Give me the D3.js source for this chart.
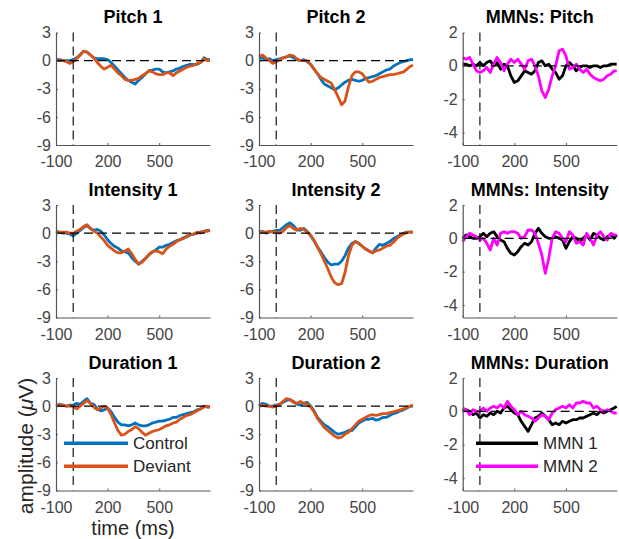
<!DOCTYPE html>
<html>
<head>
<meta charset="utf-8">
<script src="https://cdn.jsdelivr.net/npm/d3@7"></script>
<style>
  body { margin: 0; background: #fff; }
  svg { display: block; }
  text { font-family: "Liberation Sans", Arial, sans-serif; }
</style>
</head>
<body>
<svg id="chart"></svg>
<script>
// time points (ms) shared by every trace
var time = [-100,-80,-60,-40,-20,0,20,40,60,80,
  100,120,140,160,180,200,220,240,260,280,
  300,320,340,360,380,400,420,440,460,480,
  500,520,540,560,580,600,620,640,660,680,
  700,720,740,760,780,795];

var xTicks = [-100, 200, 500];
var erpTicks = [-9, -6, -3, 0, 3];
var mmnTicks = [-4, -2, 0, 2];

// ERPs (uV)
var pitch1Control = [0.1,0.1,0.0,0.0,0.0,0.1,0.3,0.6,1.0,0.9,
  0.6,0.3,0.2,0.2,0.2,0.1,-0.2,-0.6,-1.0,-1.4,
  -1.8,-2.1,-2.3,-2.5,-2.1,-1.8,-1.4,-1.1,-1.0,-0.9,
  -0.9,-1.2,-1.3,-1.2,-1.1,-0.9,-0.8,-0.6,-0.5,-0.4,
  -0.4,-0.4,-0.2,0.3,0.1,0.1];
var pitch1Deviant = [0.0,0.0,0.0,-0.1,-0.3,-0.1,0.2,0.6,1.0,0.9,
  0.6,0.3,-0.2,-0.6,-0.9,-0.7,-0.5,-0.9,-1.3,-1.6,
  -2.0,-2.1,-2.1,-2.0,-1.9,-1.6,-1.4,-1.1,-1.2,-1.4,
  -1.5,-1.5,-1.3,-1.3,-1.6,-1.3,-1.1,-0.9,-0.7,-0.6,
  -0.5,-0.3,-0.2,0.2,0.0,0.0];
var pitch2Control = [0.2,0.3,0.1,0.2,0.0,0.1,0.2,0.3,0.4,0.5,
  0.3,0.1,0.0,0.1,-0.1,-0.4,-0.9,-1.4,-2.0,-2.5,
  -2.7,-2.9,-3.1,-2.9,-2.6,-2.3,-2.1,-2.0,-2.1,-2.2,
  -2.1,-1.9,-1.8,-1.7,-1.6,-1.4,-1.2,-1.0,-0.9,-0.6,
  -0.4,-0.2,-0.1,0.0,0.1,0.1];
var pitch2Deviant = [0.4,0.6,0.3,0.0,-0.3,-0.1,0.1,0.3,0.4,0.6,
  0.5,0.2,0.0,0.0,0.0,-0.4,-0.9,-1.4,-1.8,-2.0,
  -2.2,-2.4,-3.1,-3.9,-4.7,-4.3,-2.8,-1.6,-1.2,-1.2,
  -1.4,-1.9,-2.3,-2.2,-2.0,-1.8,-1.7,-1.6,-1.5,-1.5,
  -1.4,-1.3,-1.2,-0.9,-0.6,-0.5];
var intensity1Control = [0.2,0.1,0.0,0.0,-0.1,-0.3,0.0,0.3,0.6,0.8,
  0.5,0.3,0.4,0.2,-0.2,-0.7,-1.1,-1.4,-1.6,-1.9,
  -2.0,-2.1,-2.6,-3.0,-3.3,-3.0,-2.7,-2.3,-2.0,-1.8,
  -1.5,-1.5,-1.3,-1.2,-1.0,-0.8,-0.7,-0.5,-0.4,-0.2,
  -0.1,0.0,0.1,0.2,0.3,0.3];
var intensity1Deviant = [0.0,0.1,0.1,0.1,0.0,0.0,0.2,0.4,0.7,0.9,
  0.5,0.2,0.0,-0.4,-0.8,-1.3,-1.6,-1.9,-2.1,-2.1,
  -1.9,-1.7,-2.2,-2.8,-3.3,-3.1,-2.7,-2.3,-2.0,-1.9,
  -2.0,-2.2,-1.7,-1.4,-1.2,-0.9,-0.7,-0.6,-0.3,-0.2,
  -0.1,0.1,0.0,0.2,0.2,0.3];
var intensity2Control = [0.1,0.2,0.0,0.1,0.2,0.3,0.3,0.6,0.9,1.1,
  0.8,0.4,0.3,0.5,0.2,-0.3,-0.8,-1.5,-2.0,-2.6,
  -3.1,-3.4,-3.3,-3.3,-3.0,-2.4,-1.6,-1.1,-0.9,-1.1,
  -1.4,-1.7,-1.9,-2.1,-1.6,-1.2,-1.3,-1.1,-0.9,-0.6,
  -0.4,-0.2,0.0,0.1,0.1,0.1];
var intensity2Deviant = [0.0,0.1,0.1,0.2,0.1,0.1,0.0,0.2,0.6,0.8,
  0.5,0.3,0.5,0.4,0.1,-0.2,-0.8,-1.5,-2.2,-3.0,
  -3.8,-4.7,-5.3,-5.5,-5.4,-4.2,-2.4,-1.3,-0.9,-1.1,
  -1.4,-1.7,-1.9,-2.1,-1.9,-1.8,-1.6,-1.4,-1.3,-1.0,
  -0.6,-0.3,-0.1,0.1,0.1,0.1];
var duration1Control = [0.0,0.2,0.1,0.0,0.1,0.1,0.3,0.2,0.5,0.8,
  0.3,0.2,-0.3,-0.5,-0.4,-0.2,-0.6,-1.2,-1.7,-2.0,
  -2.0,-2.1,-2.0,-1.8,-2.0,-2.1,-2.1,-2.0,-1.8,-1.7,
  -1.6,-1.6,-1.5,-1.4,-1.2,-1.2,-1.0,-0.9,-0.8,-0.7,
  -0.6,-0.4,-0.3,0.0,-0.1,-0.1];
var duration1Deviant = [0.1,0.1,0.1,0.0,0.0,0.0,-0.3,0.0,0.3,0.6,
  0.3,-0.1,-0.4,-0.2,0.0,-0.2,-0.9,-1.8,-2.6,-3.1,
  -3.0,-2.7,-2.5,-2.2,-2.4,-2.8,-3.1,-2.9,-2.7,-2.6,
  -2.5,-2.3,-2.1,-2.0,-1.8,-1.7,-1.4,-1.2,-1.0,-0.9,
  -0.7,-0.5,-0.3,-0.1,0.0,-0.1];
var duration2Control = [0.0,0.3,0.2,0.0,0.0,0.1,0.2,0.4,0.6,0.7,
  0.5,0.2,0.1,0.3,0.4,0.0,-0.5,-1.2,-1.6,-2.0,
  -2.2,-2.5,-2.8,-3.0,-2.9,-2.8,-2.6,-2.6,-2.2,-1.8,
  -1.6,-1.4,-1.4,-1.3,-1.5,-1.4,-1.2,-1.2,-1.0,-0.8,
  -0.7,-0.5,-0.4,-0.2,0.0,0.0];
var duration2Deviant = [0.0,0.1,0.0,0.0,-0.1,0.0,0.2,0.5,0.8,0.7,
  0.4,0.3,0.5,0.3,0.2,-0.1,-0.6,-1.3,-1.8,-2.3,
  -2.6,-2.9,-3.2,-3.4,-3.3,-3.0,-2.8,-2.4,-2.0,-1.6,
  -1.4,-1.2,-1.0,-0.9,-1.0,-0.9,-0.8,-0.8,-0.7,-0.6,
  -0.5,-0.4,-0.3,-0.1,0.0,0.1];

// MMN difference waves (uV)
var mmnPitch1 = [0.1,0.1,0.0,0.1,0.0,0.2,0.0,0.2,0.3,0.0,
  0.2,-0.2,0.1,0.0,-0.6,-1.0,-0.9,-0.6,-0.3,-0.4,
  -0.5,-0.3,0.2,0.3,0.0,0.1,-0.2,-0.4,-0.8,-0.6,
  0.0,0.2,0.0,-0.3,-0.1,0.0,0.0,-0.1,0.0,0.0,
  -0.1,0.0,0.0,0.1,0.1,0.1];
var mmnPitch2 = [0.5,0.4,0.5,0.1,-0.3,-0.4,-0.3,-0.1,-0.4,0.1,
  0.5,0.2,-0.3,0.1,0.4,0.2,0.4,0.1,-0.2,0.3,
  0.4,0.0,-0.6,-1.5,-1.9,-1.4,-0.6,0.0,0.9,1.0,
  0.6,-0.2,-0.1,0.1,-0.2,-0.4,-0.2,-0.5,-0.7,-0.8,
  -0.9,-0.8,-0.6,-0.5,-0.3,-0.3];
var mmnIntensity1 = [0.0,0.2,0.1,0.0,0.0,0.1,0.3,0.1,0.3,0.4,
  0.1,-0.1,-0.2,-0.6,-0.9,-1.0,-0.8,-0.5,-0.3,-0.4,
  -0.2,0.3,0.6,0.3,0.1,0.0,0.0,0.1,0.0,-0.1,
  -0.6,-0.2,0.1,0.0,-0.2,0.0,0.2,-0.1,0.3,0.2,
  0.0,-0.1,0.1,0.2,0.0,0.2];
var mmnIntensity2 = [-0.2,0.1,0.3,0.2,0.1,-0.1,0.0,-0.3,-0.7,0.0,
  -0.4,0.3,0.4,0.3,0.4,0.4,0.3,0.0,0.1,0.5,
  0.5,0.3,-0.3,-1.0,-2.1,-1.2,0.0,0.4,0.3,0.0,
  -0.2,0.4,0.2,-0.3,-0.2,-0.4,0.3,0.0,-0.4,0.2,
  0.4,0.1,-0.1,0.3,0.2,0.2];
var mmnDuration1 = [0.0,0.1,0.0,-0.2,-0.1,-0.4,-0.2,-0.3,-0.1,-0.2,
  0.0,-0.1,0.2,0.3,0.1,-0.1,-0.2,-0.6,-0.9,-1.2,
  -0.8,-0.4,-0.3,-0.1,-0.3,-0.5,-0.8,-0.7,-0.8,-0.6,
  -0.7,-0.6,-0.5,-0.5,-0.4,-0.4,-0.3,-0.2,-0.1,-0.2,
  0.0,-0.1,0.0,0.1,0.2,0.3];
var mmnDuration2 = [0.2,0.1,-0.2,0.1,0.0,0.0,0.2,0.0,0.2,0.3,
  0.2,0.4,0.2,0.6,0.3,0.1,-0.2,0.0,-0.2,-0.3,
  -0.4,-0.6,-0.4,-0.2,-0.3,-0.5,-0.1,0.1,0.2,0.3,
  0.2,0.4,0.2,0.5,0.5,0.6,0.5,0.5,0.2,0.3,
  0.1,0.0,0.1,0.0,-0.1,-0.1];

var erpNames = ["Control", "Deviant"];
var mmnNames = ["MMN 1", "MMN 2"];

var panels = [
  {title: "Pitch 1", row: 0, col: 0, kind: "erp", series: [pitch1Control, pitch1Deviant]},
  {title: "Pitch 2", row: 0, col: 1, kind: "erp", series: [pitch2Control, pitch2Deviant]},
  {title: "MMNs: Pitch", row: 0, col: 2, kind: "mmn", series: [mmnPitch1, mmnPitch2]},
  {title: "Intensity 1", row: 1, col: 0, kind: "erp", series: [intensity1Control, intensity1Deviant]},
  {title: "Intensity 2", row: 1, col: 1, kind: "erp", series: [intensity2Control, intensity2Deviant]},
  {title: "MMNs: Intensity", row: 1, col: 2, kind: "mmn", series: [mmnIntensity1, mmnIntensity2]},
  {title: "Duration 1", row: 2, col: 0, kind: "erp", series: [duration1Control, duration1Deviant], legend: erpNames},
  {title: "Duration 2", row: 2, col: 1, kind: "erp", series: [duration2Control, duration2Deviant]},
  {title: "MMNs: Duration", row: 2, col: 2, kind: "mmn", series: [mmnDuration1, mmnDuration2], legend: mmnNames}
];

var svgWidth = 619, svgHeight = 539;
var colLeft = [56, 259, 462.7], rowTop = [32.5, 205, 378];
var plotW = 154, plotH = 112.5;
var erpColors = ["#0072BD", "#D95319"], mmnColors = ["#000000", "#FF00FF"];

var svg = d3.select("#chart")
    .attr("width", svgWidth)
    .attr("height", svgHeight);

panels.forEach(function(p) {
  var g = svg.append("g")
      .attr("transform", "translate(" + colLeft[p.col] + "," + rowTop[p.row] + ")");

  var x = d3.scaleLinear().domain([-100, 795]).range([0, plotW]);
  var y = d3.scaleLinear()
      .domain(p.kind == "erp" ? [-9, 3] : [-4.75, 2.0])
      .range([plotH, 0]);
  var colors = p.kind == "erp" ? erpColors : mmnColors;

  var line = d3.line()
      .x(function(d, i) { return x(time[i]); })
      .y(function(d) { return y(d); });

  p.series.forEach(function(s, k) {
    g.append("path")
        .datum(s)
        .attr("d", line)
        .attr("fill", "none")
        .attr("stroke", colors[k])
        .attr("stroke-width", 2.8)
        .attr("stroke-linejoin", "round");
  });

  // reference lines at t = 0 and amplitude = 0
  g.append("line")
      .attr("x1", x(0)).attr("x2", x(0))
      .attr("y1", 0).attr("y2", plotH)
      .attr("stroke", "#000").attr("stroke-width", 1.1)
      .attr("stroke-dasharray", "9,5");
  g.append("line")
      .attr("x1", x(-100)).attr("x2", x(795))
      .attr("y1", y(0)).attr("y2", y(0))
      .attr("stroke", "#000").attr("stroke-width", 1.1)
      .attr("stroke-dasharray", "9,5");

  var xAxis = g.append("g")
      .attr("transform", "translate(0," + plotH + ")")
      .call(d3.axisBottom(x).tickValues(xTicks).tickSizeInner(-2).tickSizeOuter(0)
        .tickPadding(11).tickFormat(function(d) { return String(d); }));
  var yAxis = g.append("g")
      .call(d3.axisLeft(y).tickValues(p.kind == "erp" ? erpTicks : mmnTicks)
        .tickSizeInner(-2).tickSizeOuter(0).tickPadding(5)
        .tickFormat(function(d) { return String(d); }));

  [xAxis, yAxis].forEach(function(a) {
    a.select(".domain").attr("stroke", "#555").attr("stroke-width", 1.2);
    a.selectAll(".tick line").attr("stroke", "#555");
    a.selectAll(".tick text")
        .attr("fill", "#444")
        .style("font-size", "16px")
        .style("font-family", "'Liberation Sans', Arial, sans-serif");
  });

  g.append("text")
      .attr("x", plotW / 2)
      .attr("y", -9.5)
      .attr("text-anchor", "middle")
      .style("font-size", "18px")
      .style("font-weight", "bold")
      .attr("fill", "#000")
      .text(p.title);

  if (p.legend) {
    var legX = p.kind == "erp" ? [8, 72] : [13.3, 75.3];
    var legY = [65.3, 88.2];
    p.legend.forEach(function(name, k) {
      g.append("line")
          .attr("x1", legX[0]).attr("x2", legX[1])
          .attr("y1", legY[k]).attr("y2", legY[k])
          .attr("stroke", colors[k]).attr("stroke-width", 3.5);
      g.append("text")
          .attr("x", legX[1] + 5)
          .attr("y", legY[k] + 6)
          .attr("fill", "#262626")
          .style("font-size", "17px")
          .text(name);
    });
  }
});

// axis labels (shared, drawn on the bottom-left panel)
svg.append("text")
    .attr("x", colLeft[0] + plotW / 2)
    .attr("y", 535)
    .attr("text-anchor", "middle")
    .attr("fill", "#262626")
    .style("font-size", "20px")
    .text("time (ms)");

var yl = svg.append("text")
    .attr("transform", "translate(33,446) rotate(-90)")
    .attr("text-anchor", "middle")
    .attr("fill", "#262626")
    .style("font-size", "21px");
yl.append("tspan").text("amplitude (");
yl.append("tspan").style("font-style", "italic").text("\u03bc");
yl.append("tspan").text("V)");
</script>
</body>
</html>
